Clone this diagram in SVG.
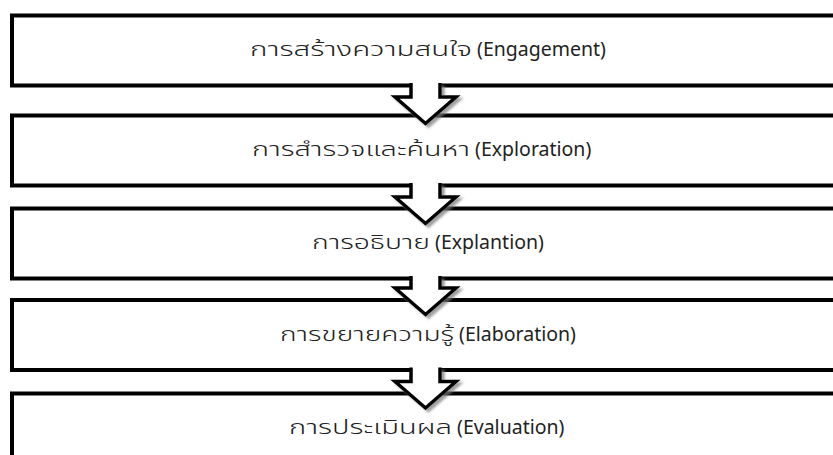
<svg xmlns="http://www.w3.org/2000/svg" width="833" height="455" viewBox="0 0 833 455">
<defs>
<style>
.box{fill:#fff;stroke:#000;stroke-width:4}
.arrow{fill:#fff;stroke:#000;stroke-width:3.5;stroke-linejoin:miter}
.lbl{font-family:"Noto Sans Thai","Noto Sans","DejaVu Sans",sans-serif;font-size:19.5px;fill:#222}
.th{font-weight:360}
</style>
<filter id="sh" x="-20%" y="-20%" width="150%" height="150%">
<feDropShadow dx="3" dy="2.5" stdDeviation="1" flood-color="#777" flood-opacity="0.7"/>
</filter>
</defs>
<rect width="833" height="455" fill="#fff"/>
<g id="node1"><rect class="box" x="12" y="15.5" width="830" height="70"/><text class="lbl" x="250" y="56"><tspan class="th" textLength="222" lengthAdjust="spacingAndGlyphs">การสร้างความสนใจ</tspan> (Engagement)</text></g>
<g id="node2"><rect class="box" x="12" y="115.5" width="830" height="70"/><text class="lbl" x="252" y="156"><tspan class="th" textLength="218" lengthAdjust="spacingAndGlyphs">การสำรวจและค้นหา</tspan> (Exploration)</text></g>
<g id="node3"><rect class="box" x="12" y="208.5" width="830" height="70"/><text class="lbl" x="312" y="249"><tspan class="th" textLength="118" lengthAdjust="spacingAndGlyphs">การอธิบาย</tspan> (Explantion)</text></g>
<g id="node4"><rect class="box" x="12" y="300" width="830" height="70"/><text class="lbl" x="280" y="340.5"><tspan class="th" textLength="174" lengthAdjust="spacingAndGlyphs">การขยายความรู้</tspan> (Elaboration)</text></g>
<g id="node5"><rect class="box" x="12" y="393.5" width="830" height="70"/><text class="lbl" x="289" y="434"><tspan class="th" textLength="163" lengthAdjust="spacingAndGlyphs">การประเมินผล</tspan> (Evaluation)</text></g>
<g id="connectors" filter="url(#sh)">
<path class="arrow" d="M411,83 V97 H395 L425.5,123.5 L456,97 H440 V83"/>
<path class="arrow" d="M411,183 V197 H395 L425.5,223.5 L456,197 H440 V183"/>
<path class="arrow" d="M411,276 V288 H395 L425.5,314.5 L456,288 H440 V276"/>
<path class="arrow" d="M411,367.5 V381.5 H395 L425.5,408 L456,381.5 H440 V367.5"/>
</g>
</svg>
